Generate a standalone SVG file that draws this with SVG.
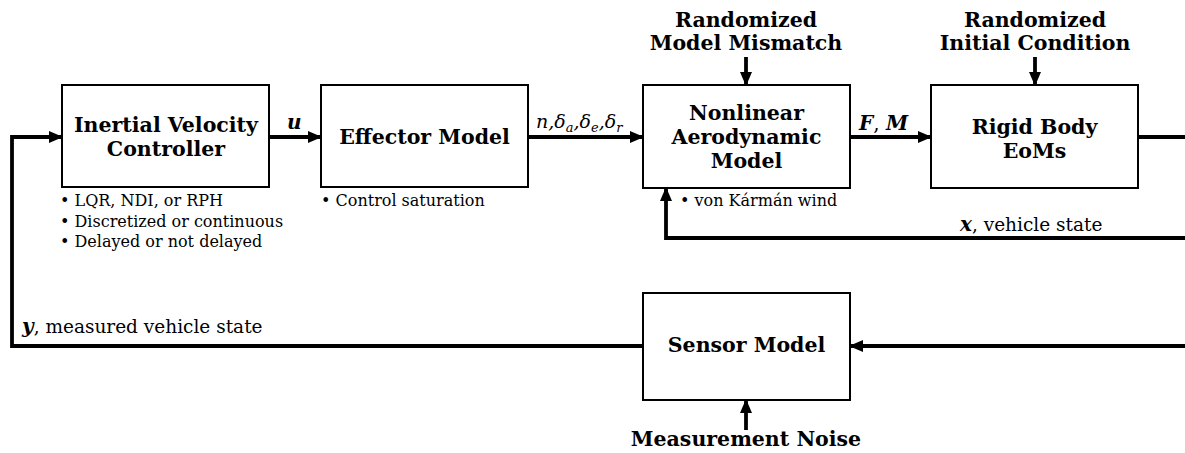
<svg xmlns="http://www.w3.org/2000/svg" width="1185" height="453" viewBox="0 0 1185 453">
<defs>
<marker id="ah" viewBox="0 0 14 12" refX="13" refY="6" markerWidth="14" markerHeight="12" markerUnits="userSpaceOnUse" orient="auto">
<path d="M0,0 L14,6 L0,12 Z" fill="#000"/>
</marker>
<style>
text{font-family:'DejaVu Serif',serif;fill:#000}
.box{fill:#fff;stroke:#000;stroke-width:2}
.b{font-weight:bold;font-size:20.5px;text-anchor:middle}
.n{font-size:16px}
.l{font-size:18.5px}
.m{font-size:19px;font-style:italic}
.mb{font-size:20px;font-style:italic;font-weight:bold}
.c{fill:none;stroke:#000;stroke-width:3.8}
.ca{fill:none;stroke:#000;stroke-width:3.8;marker-end:url(#ah)}
</style>
</defs>
<g id="connectors">
<path class="ca" d="M269,137 H321"/>
<path class="ca" d="M528,137 H643"/>
<path class="ca" d="M850,137 H931"/>
<path class="c" d="M1138,137 H1185"/>
<path class="ca" d="M1185,238 H666 V188"/>
<path class="ca" d="M1185,346 H850"/>
<path class="ca" d="M643,346 H12 V137 H62"/>
<path class="ca" d="M746,57 V85"/>
<path class="ca" d="M1035,57 V85"/>
<path class="ca" d="M746,430 V400"/>
</g>
<g id="controller">
<rect class="box" x="62" y="85" width="207" height="102"/>
<text class="b" x="166" y="132">Inertial Velocity</text>
<text class="b" x="166" y="156">Controller</text>
<text class="n" x="60" y="206">• LQR, NDI, or RPH</text>
<text class="n" x="60" y="227">• Discretized or continuous</text>
<text class="n" x="60" y="247">• Delayed or not delayed</text>
</g>
<g id="effector">
<rect class="box" x="321" y="85" width="207" height="102"/>
<text class="b" x="424.5" y="144">Effector Model</text>
<text class="n" x="321" y="206">• Control saturation</text>
</g>
<g id="aero">
<rect class="box" x="643" y="85" width="207" height="103"/>
<text class="b" x="746.5" y="120">Nonlinear</text>
<text class="b" x="746.5" y="144">Aerodynamic</text>
<text class="b" x="746.5" y="168">Model</text>
<text class="n" x="680" y="206">• von Kármán wind</text>
</g>
<g id="rigid">
<rect class="box" x="931" y="85" width="207" height="103"/>
<text class="b" x="1034.5" y="134">Rigid Body</text>
<text class="b" x="1034.5" y="158">EoMs</text>
</g>
<g id="sensor">
<rect class="box" x="643" y="293" width="207" height="107"/>
<text class="b" x="746.5" y="352">Sensor Model</text>
</g>
<g id="mismatch">
<text class="b" x="746" y="27">Randomized</text>
<text class="b" x="746" y="50">Model Mismatch</text>
</g>
<g id="initial">
<text class="b" x="1035" y="27">Randomized</text>
<text class="b" x="1035" y="50">Initial Condition</text>
</g>
<g id="noise">
<text class="b" x="746" y="446">Measurement Noise</text>
</g>
<g id="labels">
<text class="mb" x="287" y="129">u</text>
<text class="m" x="536" y="128">n,δ<tspan font-size="13" dy="4">a</tspan><tspan dy="-4">,δ</tspan><tspan font-size="13" dy="4">e</tspan><tspan dy="-4">,δ</tspan><tspan font-size="13" dy="4">r</tspan></text>
<text class="mb" x="859" y="130">F<tspan font-weight="normal" font-style="normal">, </tspan>M</text>
<text class="l" x="960" y="231"><tspan class="mb">x</tspan>, vehicle state</text>
<text class="l" x="22" y="333"><tspan class="mb">y</tspan>, measured vehicle state</text>
</g>
</svg>
